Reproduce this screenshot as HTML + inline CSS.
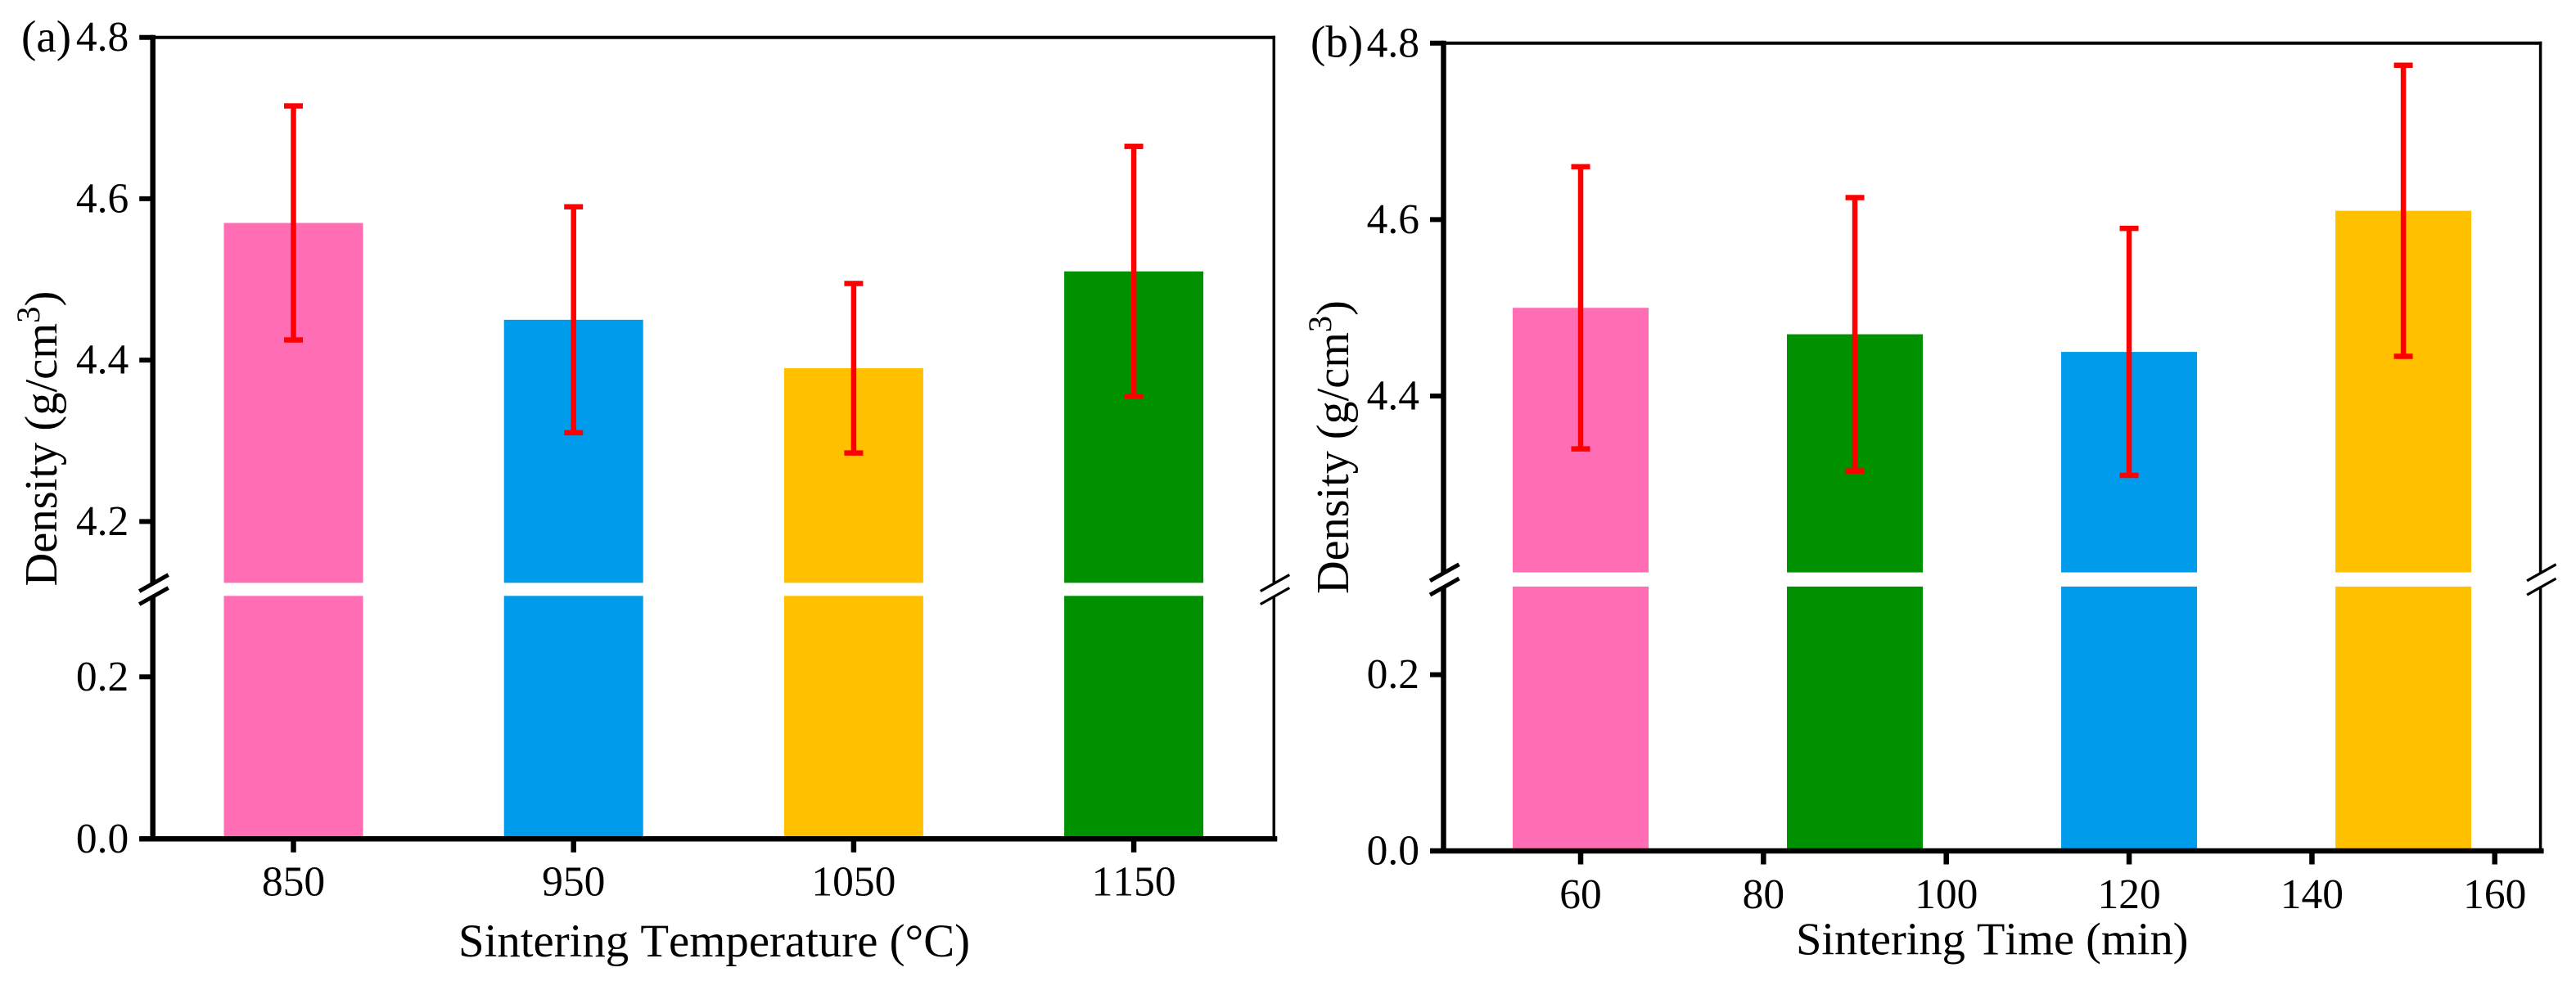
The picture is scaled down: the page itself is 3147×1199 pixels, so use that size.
<!DOCTYPE html>
<html lang="en">
<head>
<meta charset="utf-8">
<title>Density vs sintering temperature and time</title>
<style>
html,body{margin:0;padding:0;background:#fff;width:3147px;height:1199px;overflow:hidden}
svg{display:block}
text{font-family:"Liberation Serif","Times New Roman",serif;fill:#000;font-kerning:none}
</style>
</head>
<body>
<svg id="figure" xmlns="http://www.w3.org/2000/svg" width="3147" height="1199" viewBox="0 0 3147 1199"></svg>
<script>
// Panel (a) data
const tempCategories = ['850', '950', '1050', '1150'];
const tempDensity = [4.57, 4.45, 4.39, 4.51];
const tempError = [0.145, 0.14, 0.105, 0.155];
// Panel (b) data
const timeValues = [60, 90, 120, 150];
const timeDensity = [4.5, 4.47, 4.45, 4.61];
const timeError = [0.16, 0.155, 0.14, 0.165];
const timeTicks = [60, 80, 100, 120, 140, 160];
// Shared / per-panel axis ticks
const yTicksUpperA = [4.2, 4.4, 4.6, 4.8];
const yTicksUpperB = [4.4, 4.6, 4.8];
const yTicksLower = [0.0, 0.2];
const barColorsA = ['#FF6EB4', '#009CEB', '#FFC000', '#009100'];
const barColorsB = ['#FF6EB4', '#009100', '#009CEB', '#FFC000'];

const NS = 'http://www.w3.org/2000/svg';
const svg = document.getElementById('figure');

function mk(tag, attrs, parent) {
  const el = document.createElementNS(NS, tag);
  for (const k in attrs) el.setAttribute(k, attrs[k]);
  (parent || svg).appendChild(el);
  return el;
}

function makeYScale(p) {
  const upperPx = (p.yTop4p8 - p.yUpperRef) / (4.8 - p.upperRefVal);
  const lowerPx = (p.y0 - p.yLowerRef) / p.lowerRefVal;
  return function (v) {
    if (v >= p.breakHigh) return p.yTop4p8 + (4.8 - v) * -upperPx;
    return p.y0 - v * lowerPx;
  };
}

function drawPanel(p) {
  const g = mk('g', {});
  
  
  const y = makeYScale(p);

  // bars: lower segment and upper segment
  p.xPositions.forEach(function (cx, i) {
    const left = cx - p.barWidth / 2;
    const lower = mk('rect', {x: left, y: y(p.breakLow), width: p.barWidth, height: y(0) - y(p.breakLow), fill: p.colors[i]}, g);
    
    
    const upper = mk('rect', {x: left, y: y(p.values[i]), width: p.barWidth, height: y(p.breakHigh) - y(p.values[i]), fill: p.colors[i]}, g);
    
    
  });

  // error bars
  p.xPositions.forEach(function (cx, i) {
    const hi = y(p.values[i] + p.errors[i]);
    const lo = y(p.values[i] - p.errors[i]);
    const stem = mk('line', {x1: cx, x2: cx, y1: hi, y2: lo, stroke: '#FF0000', 'stroke-width': 6.5}, g);
    
    
    const capHi = mk('line', {x1: cx - 11.5, x2: cx + 11.5, y1: hi, y2: hi, stroke: '#FF0000', 'stroke-width': 6.5}, g);
    
    
    const capLo = mk('line', {x1: cx - 11.5, x2: cx + 11.5, y1: lo, y2: lo, stroke: '#FF0000', 'stroke-width': 6.5}, g);
    
    
  });

  // frame
  const yB1 = y(p.breakHigh);
  const yB2 = y(p.breakLow);
  const top = mk('line', {x1: p.xLeft, x2: p.xRight + 1.7, y1: y(4.8), y2: y(4.8), stroke: '#000', 'stroke-width': 4}, g);
  
  
  const leftU = mk('line', {x1: p.xLeft, x2: p.xLeft, y1: y(4.8) - 3, y2: yB1, stroke: '#000', 'stroke-width': 6.5}, g);
  
  
  const leftL = mk('line', {x1: p.xLeft, x2: p.xLeft, y1: yB2, y2: y(0), stroke: '#000', 'stroke-width': 6.5}, g);
  
  
  const rightU = mk('line', {x1: p.xRight, x2: p.xRight, y1: y(4.8) - 2, y2: yB1, stroke: '#000', 'stroke-width': 3.5}, g);
  
  
  const rightL = mk('line', {x1: p.xRight, x2: p.xRight, y1: yB2, y2: y(0), stroke: '#000', 'stroke-width': 3.5}, g);
  
  
  const bottom = mk('line', {x1: p.xLeft - 16.5, x2: p.xRight + 4, y1: y(0), y2: y(0), stroke: '#000', 'stroke-width': 6.5}, g);
  
  

  // axis break marks
  [[p.xLeft, 5, 'left'], [p.xRight, 3.2, 'right']].forEach(function (b) {
    [yB1, yB2].forEach(function (by, j) {
      const sl = mk('line', {x1: b[0] - 16.5, x2: b[0] + 19, y1: by + 10.2, y2: by - 9.8, stroke: '#000', 'stroke-width': b[1]}, g);
      
      
    });
  });

  // y ticks and labels
  p.yTicks.forEach(function (v) {
    const ty = y(v);
    const tick = mk('line', {x1: p.xLeft - 16.5, x2: p.xLeft, y1: ty, y2: ty, stroke: '#000', 'stroke-width': 6}, g);
    
    
    const lab = mk('text', {x: p.xLeft - 29.5, y: ty + 16.5, 'text-anchor': 'end', 'font-size': 51.5}, g);
    lab.textContent = v.toFixed(1);
    
    
  });

  // x ticks and labels
  p.xTickPositions.forEach(function (tx, i) {
    const tick = mk('line', {x1: tx, x2: tx, y1: y(0), y2: y(0) + 16.5, stroke: '#000', 'stroke-width': 6.5}, g);
    
    
    const lab = mk('text', {x: tx + p.xLabelNudge, y: y(0) + p.xLabelOffset, 'text-anchor': 'middle', 'font-size': 51.5}, g);
    lab.textContent = p.xTickLabels[i];
    
    
  });

  // x axis title
  const xt = mk('text', {x: p.xTitleX, y: p.xTitleY, 'font-size': p.titleSize, textLength: p.xTitleLength, lengthAdjust: 'spacing'}, g);
  xt.textContent = p.xTitle;
  
  

  // y axis title
  const yt = mk('text', {transform: 'translate(' + p.yTitleX + ',' + p.yTitleY + ') rotate(-90)', 'font-size': p.yTitleSize}, g);
  
  
  const t1 = mk('tspan', {}, yt);
  t1.textContent = 'Density (g/cm';
  const t2 = mk('tspan', {dy: -21, 'font-size': p.yTitleSize * 0.72}, yt);
  t2.textContent = '3';
  const t3 = mk('tspan', {dy: 21}, yt);
  t3.textContent = ')';

  // panel letter
  const pl = mk('text', {x: p.letterX, y: p.letterY, 'font-size': 55}, g);
  pl.textContent = p.letter;
  
  
}

// Panel (a): categorical x axis
function xCategory(i) { return 358.5 + i * 342.2; }
// Panel (b): linear x axis, 45 to 165 min
function xTime(v) { return 1763.5 + (v - 45) * (3103.6 - 1763.5) / 120; }

drawPanel({
  name: 'temperature', letter: '(a)', letterX: 26, letterY: 63,
  values: tempDensity, errors: tempError, colors: barColorsA, xLabels: tempCategories,
  xPositions: tempCategories.map(function (c, i) { return xCategory(i); }),
  xTickPositions: tempCategories.map(function (c, i) { return xCategory(i); }),
  xTickLabels: tempCategories, xLabelNudge: 0, xLabelOffset: 69,
  yTicks: yTicksLower.concat(yTicksUpperA),
  barWidth: 170, xLeft: 186.7, xRight: 1556.3,
  yTop4p8: 45.7, yUpperRef: 637.4, upperRefVal: 4.2,
  y0: 1025.3, yLowerRef: 827.3, lowerRefVal: 0.2,
  breakHigh: 4.124, breakLow: 0.3,
  xTitle: 'Sintering Temperature (\u00B0C)', xTitleX: 560, xTitleY: 1169, titleSize: 56.8, xTitleLength: 625,
  yTitleX: 69, yTitleY: 716.5, yTitleSize: 56.5
});

drawPanel({
  name: 'time', letter: '(b)', letterX: 1601, letterY: 69.5,
  values: timeDensity, errors: timeError, colors: barColorsB, xLabels: timeValues.map(String),
  xPositions: timeValues.map(xTime),
  xTickPositions: timeTicks.map(xTime),
  xTickLabels: timeTicks.map(String), xLabelNudge: 0, xLabelOffset: 70,
  yTicks: yTicksLower.concat(yTicksUpperB),
  barWidth: 166, xLeft: 1763.5, xRight: 3103.6,
  yTop4p8: 52.8, yUpperRef: 484, upperRefVal: 4.4,
  y0: 1040, yLowerRef: 824.6, lowerRefVal: 0.2,
  breakHigh: 4.2, breakLow: 0.3,
  xTitle: 'Sintering Time (min)', xTitleX: 2194, xTitleY: 1166.5, titleSize: 56.5, xTitleLength: 479.5,
  yTitleX: 1647, yTitleY: 726, yTitleSize: 56.2
});
</script>
</body>
</html>
